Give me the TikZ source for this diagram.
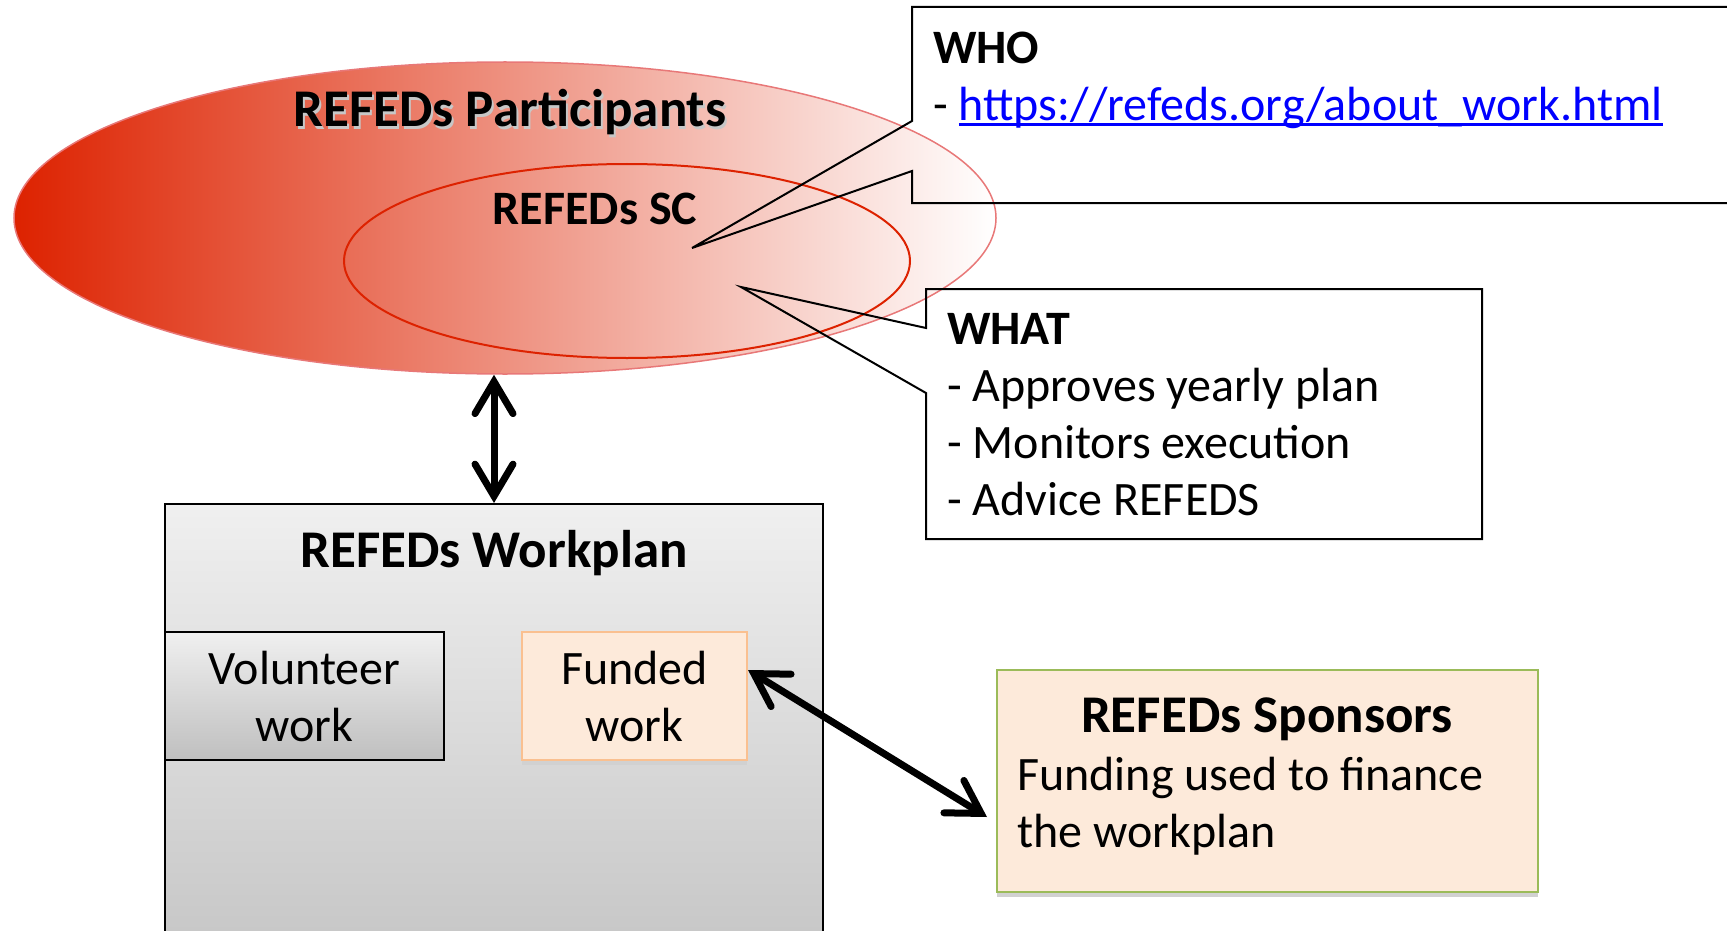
\documentclass[tikz,border=0pt]{standalone}
\usepackage{fontspec}
\setmainfont{Carlito}
\usetikzlibrary{shapes.geometric,arrows.meta,shadows}
\definecolor{refred}{RGB}{221,34,0}
\definecolor{ovalline}{RGB}{232,120,120}
\definecolor{peach}{RGB}{253,234,218}
\definecolor{peachline}{RGB}{250,192,144}
\definecolor{sponsline}{RGB}{155,187,89}
\definecolor{linkblue}{RGB}{0,0,255}
\newsavebox\linkbox
\newcommand{\ulink}[1]{\sbox\linkbox{#1}\rlap{\rule[-5pt]{\wd\linkbox}{2.5pt}}\usebox\linkbox}
\tikzset{
  txt/.style={inner sep=0pt,font=\fontsize{48}{57}\selectfont},
  ttl/.style={inner sep=0pt,font=\fontsize{53}{63}\selectfont\bfseries},
  callout/.style={draw=black,line width=2pt,line join=miter},
  workbox/.style={draw=black,line width=2pt,shading=axis,top color=black!6,bottom color=black!22},
  peachbox/.style={fill=peach,line width=2pt,drop shadow={shadow xshift=0pt,shadow yshift=-5pt,fill=black!18,opacity=1}},
  bigarrow/.style={line width=7pt,{Straight Barb[length=32pt,width=38pt,line cap=round,line join=miter]}-{Straight Barb[length=32pt,width=38pt,line cap=round,line join=miter]}}
}
\begin{document}
\begin{tikzpicture}[x=1pt,y=-1pt]
\useasboundingbox (0,0) rectangle (1727,931);
\clip (0,0) rectangle (1727,931);
% participants and steering committee
\node[ellipse,draw=ovalline,line width=1.5pt,shading=axis,left color=refred,right color=white,minimum width=982pt,minimum height=312pt,inner sep=0pt] (part) at (505,218) {};
\node[ellipse,draw=refred,line width=2pt,minimum width=566pt,minimum height=194pt,inner sep=0pt] (sc) at (627,261) {};
\node[ttl,anchor=base,text=black!22] at (512,130) {REFEDs Participants};
\node[ttl,anchor=base] (parttext) at (510,127) {REFEDs Participants};
\node[txt,anchor=base,font=\fontsize{48}{57}\selectfont\bfseries] (sctext) at (595,224) {REFEDs SC};
% callouts
\coordinate (whotip) at (692,248);
\coordinate (whattip) at (741,287);
\draw[callout] (912,121) -- (912,7) -- (1760,7) -- (1760,203) -- (912,203) -- (912,171) -- (whotip) -- cycle;
\draw[callout] (926,328) -- (926,289) -- (1482,289) -- (1482,539) -- (926,539) -- (926,393) -- (whattip) -- cycle;
\node[txt,anchor=base west,align=left] (whotext) at (933,121) {\textbf{WHO}\\- {\color{linkblue}\ulink{https://refeds.org/about\_work.html}}};
\node[txt,anchor=base west,align=left] (whattext) at (947,515) {\textbf{WHAT}\\- Approves yearly plan\\- Monitors execution\\- Advice REFEDS};
% workplan
\node[workbox,minimum width=658pt,minimum height=440pt,inner sep=0pt] (plan) at (494,724) {};
\node[ttl,anchor=base] (plantext) at (494,567) {REFEDs Workplan};
\node[workbox,bottom color=black!25,txt,align=center,minimum width=279pt,minimum height=128pt] (vol) at (304.5,696) {Volunteer\\work};
\node[peachbox,draw=peachline,txt,align=center,minimum width=225pt,minimum height=128pt] (fund) at (634.5,696) {Funded\\work};
% sponsors
\node[peachbox,draw=sponsline,minimum width=541pt,minimum height=222pt,inner sep=0pt] (spons) at (1267.5,781) {};
\node[ttl,anchor=base] (sponstext) at (1267,732) {REFEDs Sponsors};
\node[txt,anchor=base west,align=left] (fundtext) at (1017,847) {Funding used to finance\\the workplan};
% arrows
\draw[bigarrow] (plan.north |- part.south) -- (plan.north);
\draw[bigarrow] ([yshift=26pt]fund.east) -- ([xshift=-9pt,yshift=-36pt]spons.west);
\end{tikzpicture}
\end{document}
